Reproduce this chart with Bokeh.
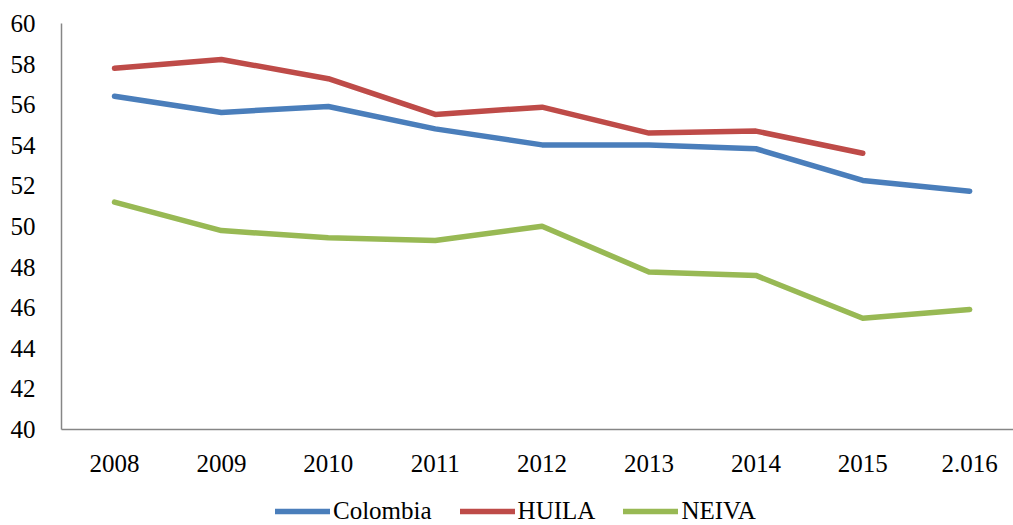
from bokeh.plotting import figure
from bokeh.models import Range1d, FixedTicker, Legend, LegendItem
from bokeh.layouts import column
from bokeh.embed import file_html
from bokeh.resources import INLINE

years = ["2008", "2009", "2010", "2011", "2012", "2013", "2014", "2015", "2.016"]
colombia = [56.42, 55.62, 55.91, 54.81, 54.02, 54.01, 53.83, 52.27, 51.74]
huila = [57.80, 58.23, 57.28, 55.52, 55.88, 54.60, 54.70, 53.61]
neiva = [51.20, 49.80, 49.44, 49.31, 50.01, 47.76, 47.59, 45.48, 45.91]
series_names = ["Colombia", "HUILA", "NEIVA"]
colors = ["#4A7EBB", "#BE4B48", "#98B954"]

FONT = "Liberation Serif"

p = figure(width=1013, height=477, output_backend="svg", toolbar_location=None,
           x_range=Range1d(-0.496, 8.41), y_range=Range1d(40, 60),
           min_border_left=61, min_border_top=23, min_border_bottom=48, min_border_right=0)
p.outline_line_color = None
p.xgrid.grid_line_color = None
p.ygrid.grid_line_color = None

xs = list(range(len(years)))
for vals, c in zip([colombia, huila, neiva], colors):
    p.line(xs[:len(vals)], vals, line_color=c, line_width=5.5, line_cap="round", line_join="round")

for ax in (p.xaxis[0], p.yaxis[0]):
    ax.axis_line_color = "#868686"
    ax.axis_line_width = 1.5
    ax.major_tick_line_color = None
    ax.minor_tick_line_color = None
    ax.major_label_text_font = FONT
    ax.major_label_text_font_size = "25px"
    ax.major_label_text_color = "#000000"

p.yaxis[0].ticker = FixedTicker(ticks=list(range(40, 61, 2)))
p.yaxis[0].major_label_standoff = 20
p.xaxis[0].ticker = FixedTicker(ticks=xs)
p.xaxis[0].major_label_overrides = {i: y for i, y in enumerate(years)}
p.xaxis[0].major_label_standoff = 19

# legend strip below the chart (key only; its swatch lines hold no visible points)
lg = figure(width=1013, height=48, output_backend="svg", toolbar_location=None,
            x_range=Range1d(0, 1), y_range=Range1d(0, 1),
            x_axis_type=None, y_axis_type=None, min_border=0)
lg.outline_line_color = None
lg.xgrid.grid_line_color = None
lg.ygrid.grid_line_color = None
nan = float("nan")
items = []
for name, c in zip(series_names, colors):
    r = lg.line([nan, nan], [nan, nan], line_color=c, line_width=5.5, line_cap="round")
    items.append(LegendItem(label=name, renderers=[r]))

legend = Legend(items=items, orientation="horizontal", location=(214, 0),
                label_text_font=FONT, label_text_font_size="25px",
                label_text_color="#000000",
                glyph_width=55, glyph_height=20, label_standoff=3, spacing=28,
                border_line_color=None, background_fill_alpha=0,
                padding=0, margin=0)
lg.add_layout(legend, "center")

layout = column(p, lg, spacing=0)
open("out.html", "w").write(file_html(layout, INLINE))
